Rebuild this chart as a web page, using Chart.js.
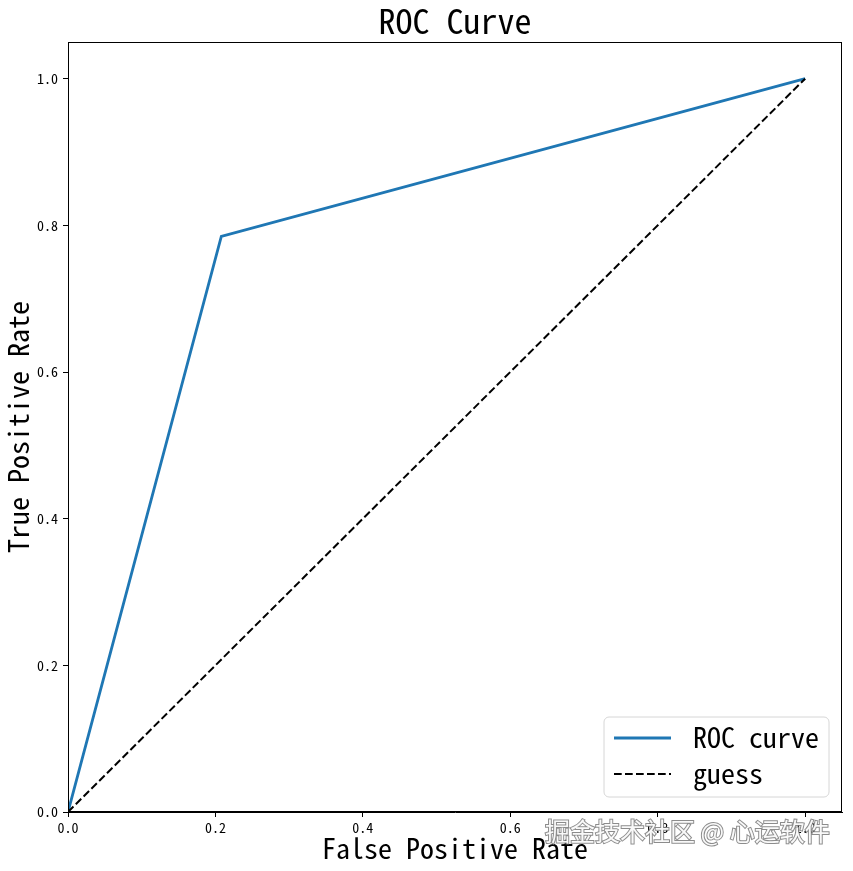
<!DOCTYPE html>
<html>
<head>
<meta charset="utf-8">
<script src="https://cdn.jsdelivr.net/npm/chart.js@4.4.1/dist/chart.umd.min.js"></script>
<style>
  html, body { margin: 0; padding: 0; background: #ffffff; }
  #wrap { width: 853px; height: 871px; }
</style>
</head>
<body>
<div id="wrap"><canvas id="c" width="853" height="871"></canvas></div>
<script>
// ---- data ----
const rocFpr = [0.0, 0.208, 1.0];
const rocTpr = [0.0, 0.785, 1.0];
const guessX = [0.0, 1.0];
const guessY = [0.0, 1.0];
const xTicks = [0.0, 0.2, 0.4, 0.6, 0.8, 1.0];
const yTicks = [0.0, 0.2, 0.4, 0.6, 0.8, 1.0];
const seriesNames = ['ROC curve', 'guess'];
const titleText = 'ROC Curve';
const xTitle = 'False Positive Rate';
const yTitle = 'True Positive Rate';
const watermark = '掘金技术社区 @ 心运软件';

const FONT = '"Noto Sans Mono CJK SC", "Noto Sans CJK SC", "DejaVu Sans Mono", monospace';

const toPoints = (xs, ys) => xs.map((x, i) => ({ x: x, y: ys[i] }));

const framePlugin = {
  id: 'frame',
  afterDraw(chart) {
    const ctx = chart.ctx;
    const a = chart.chartArea;
    ctx.save();
    ctx.strokeStyle = '#000';
    ctx.lineWidth = 1;
    ctx.strokeRect(Math.round(a.left) + 0.5, Math.round(a.top) + 0.5,
                   Math.round(a.right - a.left) - 1, Math.round(a.bottom - a.top) - 1);

    // legend (lower right, inside plot)
    const bx = 604, by = 717, bw = 225, bh = 80, r = 5;
    ctx.beginPath();
    ctx.moveTo(bx + r, by);
    ctx.arcTo(bx + bw, by, bx + bw, by + bh, r);
    ctx.arcTo(bx + bw, by + bh, bx, by + bh, r);
    ctx.arcTo(bx, by + bh, bx, by, r);
    ctx.arcTo(bx, by, bx + bw, by, r);
    ctx.closePath();
    ctx.fillStyle = 'rgba(255,255,255,0.8)';
    ctx.fill();
    ctx.strokeStyle = '#d6d6d6';
    ctx.lineWidth = 1;
    ctx.stroke();

    const rows = [738, 774];
    chart.data.datasets.forEach((ds, i) => {
      const y = rows[i];
      ctx.beginPath();
      ctx.setLineDash(ds.borderDash || []);
      ctx.strokeStyle = ds.borderColor;
      ctx.lineWidth = ds.borderWidth;
      ctx.moveTo(614, y);
      ctx.lineTo(671, y);
      ctx.stroke();
      ctx.setLineDash([]);
      ctx.fillStyle = '#000';
      ctx.font = '28px ' + FONT;
      ctx.textBaseline = 'middle';
      ctx.textAlign = 'left';
      ctx.fillText(ds.label, 693, y - 1);
    });

    // watermark
    ctx.font = '25px "Noto Sans CJK SC", sans-serif';
    ctx.textAlign = 'left';
    ctx.textBaseline = 'middle';
    ctx.lineWidth = 2;
    ctx.strokeStyle = 'rgba(120,120,120,0.85)';
    ctx.strokeText(watermark, 545, 831);
    ctx.fillStyle = 'rgba(255,255,255,0.95)';
    ctx.fillText(watermark, 545, 831);
    ctx.restore();
  }
};

const setTicks = (vals) => (scale) => { scale.ticks = vals.map(v => ({ value: v })); };

new Chart(document.getElementById('c'), {
  type: 'line',
  data: {
    datasets: [
      {
        label: seriesNames[0],
        data: toPoints(rocFpr, rocTpr),
        borderColor: '#1f77b4',
        backgroundColor: '#1f77b4',
        borderWidth: 2.8,
        pointRadius: 0,
        tension: 0,
        fill: false,
        order: 1
      },
      {
        label: seriesNames[1],
        data: toPoints(guessX, guessY),
        borderColor: '#000000',
        backgroundColor: '#000000',
        borderWidth: 2,
        borderDash: [7.7, 3.3],
        pointRadius: 0,
        tension: 0,
        fill: false,
        order: 0
      }
    ]
  },
  options: {
    responsive: false,
    animation: false,
    devicePixelRatio: 1,
    layout: { padding: { left: 0, right: 11, top: 0, bottom: 0 } },
    plugins: {
      legend: { display: false },
      tooltip: { enabled: false },
      title: {
        display: true,
        text: titleText,
        fullSize: false,
        color: '#000',
        font: { family: FONT, size: 34, weight: 'normal', lineHeight: 1 },
        padding: { top: 4, bottom: 4 }
      }
    },
    scales: {
      x: {
        type: 'linear',
        min: 0, max: 1.05,
        afterBuildTicks: setTicks(xTicks),
        afterFit: (s) => { s.height = 59; },
        grid: { display: true, drawOnChartArea: false, drawTicks: true, tickLength: 5, tickColor: '#000', tickWidth: 1 },
        border: { display: true, color: '#000', width: 1 },
        ticks: {
          color: '#000', padding: 2, maxRotation: 0, autoSkip: false,
          font: { family: FONT, size: 14 },
          callback: (v) => Number(v).toFixed(1)
        },
        title: {
          display: true, text: xTitle, color: '#000',
          font: { family: FONT, size: 28, lineHeight: 1 },
          padding: { top: 0, bottom: 9 }
        }
      },
      y: {
        type: 'linear',
        min: 0, max: 1.05,
        afterBuildTicks: setTicks(yTicks),
        afterFit: (s) => { s.width = 68; },
        grid: { display: true, drawOnChartArea: false, drawTicks: true, tickLength: 5, tickColor: '#000', tickWidth: 1 },
        border: { display: true, color: '#000', width: 1 },
        ticks: {
          color: '#000', padding: 5, autoSkip: false,
          font: { family: FONT, size: 14 },
          callback: (v) => Number(v).toFixed(1)
        },
        title: {
          display: true, text: yTitle, color: '#000',
          font: { family: FONT, size: 28, lineHeight: 1 },
          padding: { top: 4, bottom: 0 }
        }
      }
    }
  },
  plugins: [framePlugin]
});
</script>
</body>
</html>
